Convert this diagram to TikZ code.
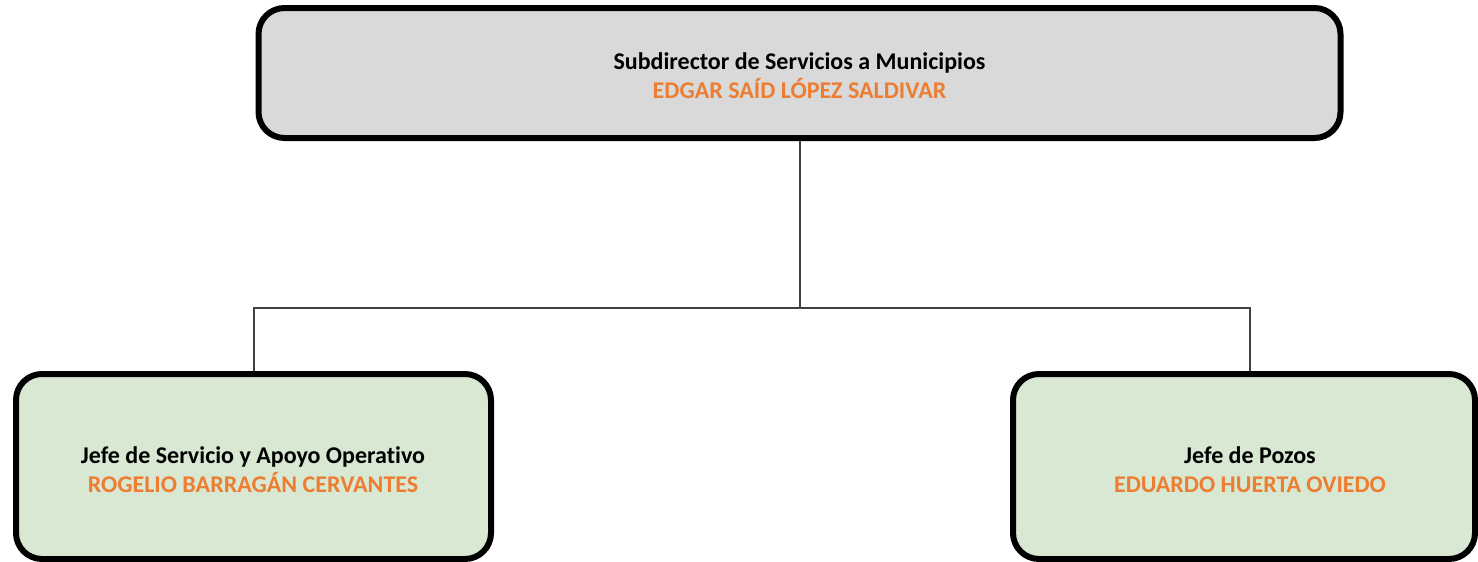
\documentclass[tikz,border=0pt]{standalone}
\usepackage{fontspec}
\setmainfont[Ligatures=NoCommon]{Carlito}
\definecolor{boxgray}{HTML}{D9D9D9}
\definecolor{boxgreen}{HTML}{D8E8D3}
\definecolor{nameorange}{HTML}{ED7D31}
\tikzset{
  orgbox/.style={draw=black, line width=6pt, rounded corners=26pt, inner sep=0pt},
  orgtext/.style={align=center, font=\fontsize{24}{29}\selectfont\bfseries, inner sep=0pt},
  conn/.style={draw=black!75, line width=1.4pt}
}
\begin{document}
\begin{tikzpicture}[x=1pt,y=-1pt]
\useasboundingbox (0,0) rectangle (1478,562);
\node[orgbox, fill=boxgray, minimum width=1082pt, minimum height=130pt] (top) at (799.5,73) {};
\node[orgtext] (toptext) at (799.5,76)
  {Subdirector de Servicios a Municipios\\\textcolor{nameorange}{EDGAR SAÍD LÓPEZ SALDIVAR}};
\node[orgbox, fill=boxgreen, minimum width=475pt, minimum height=185pt] (left) at (253.5,466.5) {};
\node[orgtext] (lefttext) at (253,470)
  {Jefe de Servicio y Apoyo Operativo\\\textcolor{nameorange}{ROGELIO BARRAGÁN CERVANTES}};
\node[orgbox, fill=boxgreen, minimum width=462pt, minimum height=185pt] (right) at (1244,466.5) {};
\node[orgtext] (righttext) at (1250,470)
  {Jefe de Pozos\\\textcolor{nameorange}{EDUARDO HUERTA OVIEDO}};
\coordinate (j) at (800,308);
\coordinate (jl) at (254,308);
\coordinate (jr) at (1250,308);
\draw[conn] (top.south -| j) -- (j);
\draw[conn] (jl |- left.north) -- (jl) -- (jr) -- (jr |- right.north);
\end{tikzpicture}
\end{document}
